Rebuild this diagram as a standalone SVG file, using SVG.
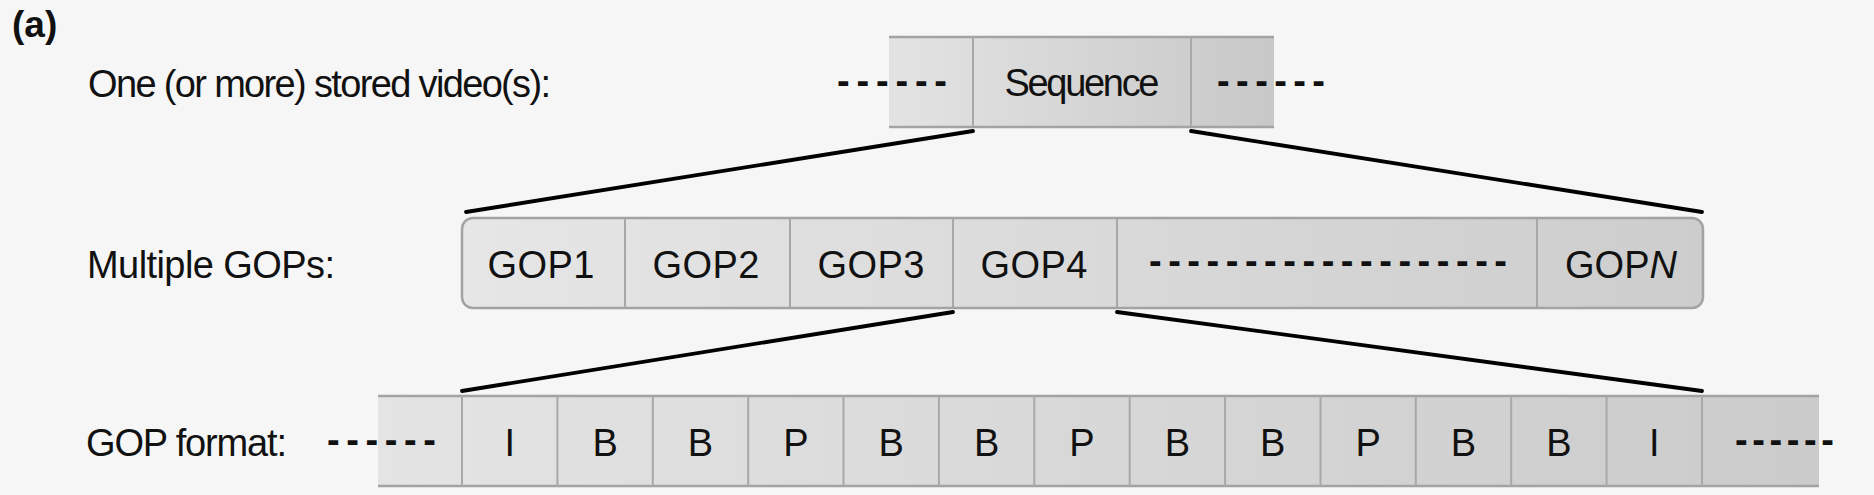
<svg xmlns="http://www.w3.org/2000/svg" width="1874" height="495" viewBox="0 0 1874 495">
<style>
.t{font-family:"Liberation Sans",Arial,sans-serif;font-size:38px;fill:#111}
.d{font-weight:bold}
.c{text-anchor:middle}
.edge{stroke:#a3a3a3;stroke-width:2.5;fill:none}
.div{stroke:#a8a8a8;stroke-width:2}
.con{stroke:#000;stroke-width:3.8;fill:none;stroke-linecap:round}
</style>
<defs>
<linearGradient id="g1" x1="0" y1="0" x2="1" y2="0"><stop offset="0" stop-color="#e3e3e3"/><stop offset="1" stop-color="#c8c8c8"/></linearGradient>
<linearGradient id="g2" x1="0" y1="0" x2="1" y2="0"><stop offset="0" stop-color="#e6e6e6"/><stop offset="1" stop-color="#cdcdcd"/></linearGradient>
<linearGradient id="g3" x1="0" y1="0" x2="1" y2="0"><stop offset="0" stop-color="#e4e4e4"/><stop offset="1" stop-color="#cbcbcb"/></linearGradient>
</defs>
<rect width="1874" height="495" fill="#f6f6f6"/>
<text x="12" y="37" style="font-family:'Liberation Sans',Arial,sans-serif;font-size:37px;font-weight:bold;fill:#111">(a)</text>

<g id="row1-label"><text class="t" x="88" y="97" textLength="463" lengthAdjust="spacing">One (or more) stored video(s):</text></g>

<g id="sequence">
<rect x="889" y="36" width="385" height="92" fill="url(#g1)"/>
<line class="edge" x1="889" y1="37" x2="1274" y2="37"/>
<line class="edge" x1="889" y1="127" x2="1274" y2="127"/>
<line class="div" x1="973" y1="37" x2="973" y2="127"/>
<line class="div" x1="1191" y1="37" x2="1191" y2="127"/>
<text class="t d" x="837" y="94" textLength="110" lengthAdjust="spacing">------</text>
<text class="t c" x="1082" y="96" textLength="155" lengthAdjust="spacing">Sequence</text>
<text class="t d" x="1217" y="94" textLength="108" lengthAdjust="spacing">------</text>
</g>

<g id="row2-label"><text class="t" x="87" y="278" textLength="248" lengthAdjust="spacing">Multiple GOPs:</text></g>

<g id="gops">
<rect x="462" y="218" width="1241" height="90" rx="11" fill="url(#g2)" stroke="#a3a3a3" stroke-width="2.5"/>
<line class="div" x1="625" y1="219" x2="625" y2="307"/>
<line class="div" x1="790" y1="219" x2="790" y2="307"/>
<line class="div" x1="953" y1="219" x2="953" y2="307"/>
<line class="div" x1="1117" y1="219" x2="1117" y2="307"/>
<line class="div" x1="1537" y1="219" x2="1537" y2="307"/>
<text class="t c" x="541" y="278" textLength="107" lengthAdjust="spacing">GOP1</text>
<text class="t c" x="706" y="278" textLength="107" lengthAdjust="spacing">GOP2</text>
<text class="t c" x="871" y="278" textLength="107" lengthAdjust="spacing">GOP3</text>
<text class="t c" x="1034" y="278" textLength="107" lengthAdjust="spacing">GOP4</text>
<text class="t d" x="1149" y="274" textLength="358" lengthAdjust="spacing">-------------------</text>
<text class="t c" x="1621" y="278">GOP<tspan font-style="italic">N</tspan></text>
</g>

<g id="row3-label"><text class="t" x="86" y="456" textLength="201" lengthAdjust="spacing">GOP format:</text></g>

<g id="frames">
<rect x="378" y="395" width="1441" height="92" fill="url(#g3)"/>
<line class="edge" x1="378" y1="396" x2="1819" y2="396"/>
<line class="edge" x1="378" y1="486" x2="1819" y2="486"/>
<g class="div">
<line x1="462" y1="396" x2="462" y2="486"/>
<line x1="557.4" y1="396" x2="557.4" y2="486"/>
<line x1="652.8" y1="396" x2="652.8" y2="486"/>
<line x1="748.2" y1="396" x2="748.2" y2="486"/>
<line x1="843.5" y1="396" x2="843.5" y2="486"/>
<line x1="938.9" y1="396" x2="938.9" y2="486"/>
<line x1="1034.3" y1="396" x2="1034.3" y2="486"/>
<line x1="1129.7" y1="396" x2="1129.7" y2="486"/>
<line x1="1225.1" y1="396" x2="1225.1" y2="486"/>
<line x1="1320.5" y1="396" x2="1320.5" y2="486"/>
<line x1="1415.8" y1="396" x2="1415.8" y2="486"/>
<line x1="1511.2" y1="396" x2="1511.2" y2="486"/>
<line x1="1606.6" y1="396" x2="1606.6" y2="486"/>
<line x1="1702" y1="396" x2="1702" y2="486"/>
</g>
<text class="t d" x="327" y="453" textLength="109" lengthAdjust="spacing">------</text>
<text class="t c" x="509.7" y="456">I</text>
<text class="t c" x="605.1" y="456">B</text>
<text class="t c" x="700.5" y="456">B</text>
<text class="t c" x="795.9" y="456">P</text>
<text class="t c" x="891.2" y="456">B</text>
<text class="t c" x="986.6" y="456">B</text>
<text class="t c" x="1082" y="456">P</text>
<text class="t c" x="1177.4" y="456">B</text>
<text class="t c" x="1272.8" y="456">B</text>
<text class="t c" x="1368.2" y="456">P</text>
<text class="t c" x="1463.5" y="456">B</text>
<text class="t c" x="1558.9" y="456">B</text>
<text class="t c" x="1654.3" y="456">I</text>
<text class="t d" x="1735" y="453" textLength="99" lengthAdjust="spacing">------</text>
</g>

<g id="connectors">
<line class="con" x1="973" y1="131" x2="466" y2="212"/>
<line class="con" x1="1191" y1="131" x2="1702" y2="212"/>
<line class="con" x1="953" y1="312" x2="462" y2="391"/>
<line class="con" x1="1117" y1="312" x2="1702" y2="391"/>
</g>
</svg>
